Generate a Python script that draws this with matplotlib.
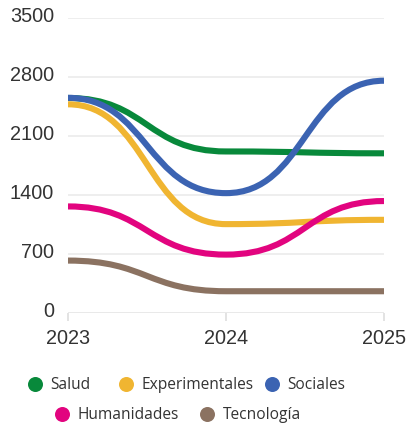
import matplotlib
matplotlib.use("Agg")
import matplotlib.pyplot as plt
from matplotlib.path import Path
from matplotlib.patches import PathPatch
from matplotlib.lines import Line2D
from matplotlib.transforms import ScaledTranslation

years = [2023, 2024, 2025]
series_names = ["Salud", "Experimentales", "Sociales", "Humanidades", "Tecnología"]
salud = [2550, 1915, 1893]
experimentales = [2475, 1052, 1103]
sociales = [2552, 1420, 2755]
humanidades = [1262, 690, 1326]
tecnologia = [619, 255, 255]
colors = ["#08893b", "#f0b531", "#3b63b2", "#e2047f", "#8b7261"]
yticks = [0, 700, 1400, 2100, 2800, 3500]

all_series = [salud, experimentales, sociales, humanidades, tecnologia]

W, H = 411, 427
fig = plt.figure(figsize=(W / 100, H / 100), dpi=100)
ax = fig.add_axes([68 / W, 1 - 313.7 / H, (384 - 68) / W, (313.7 - 19) / H])
ax.set_xlim(years[0], years[-1])
ax.set_ylim(0, 3500)

for vals, col in zip(all_series, colors):
    verts = [(years[0], vals[0])]
    codes = [Path.MOVETO]
    for i in range(len(years) - 1):
        x0, x1 = years[i], years[i + 1]
        y0, y1 = vals[i], vals[i + 1]
        xm = (x0 + x1) / 2
        verts += [(xm, y0), (xm, y1), (x1, y1)]
        codes += [Path.CURVE4] * 3
    patch = PathPatch(Path(verts, codes), facecolor="none", edgecolor=col,
                      lw=4.4, capstyle="butt", joinstyle="round", zorder=3)
    ax.add_patch(patch)

for s in ax.spines.values():
    s.set_visible(False)
ax.set_yticks(yticks)
ax.set_xticks(years)
ax.grid(axis="y", color="#ebebeb", lw=1.2, zorder=0)
ax.axhline(0, color="#e0e0e0", lw=2, zorder=1)
ax.tick_params(axis="y", length=0, pad=10, labelsize=14.3, labelcolor="#333333")
ax.tick_params(axis="x", length=6, width=1.3, color="#e0e0e0", pad=5,
               labelsize=14.3, labelcolor="#333333")
for lab in ax.get_yticklabels():
    lab.set_fontfamily("Liberation Sans")
    lab.set_transform(lab.get_transform() + ScaledTranslation(0, 4.5 / 100, fig.dpi_scale_trans))
for lab in ax.get_xticklabels():
    lab.set_fontfamily("Liberation Sans")

# legend (manual, two rows)
legend_pos = [(35, 385), (126, 385), (272, 385), (62, 415), (207, 415)]
for name, col, (px, py) in zip(series_names, colors, legend_pos):
    fig.add_artist(Line2D([px / W], [1 - py / H], marker="o", markersize=10.8,
                          markeredgewidth=0, color=col, linestyle="none",
                          transform=fig.transFigure))
    fig.text((px + 15.5) / W, 1 - py / H, name, ha="left", va="center",
             fontsize=11.2, family="Open Sans", color="#333333")

fig.savefig("out.png", dpi=100)
